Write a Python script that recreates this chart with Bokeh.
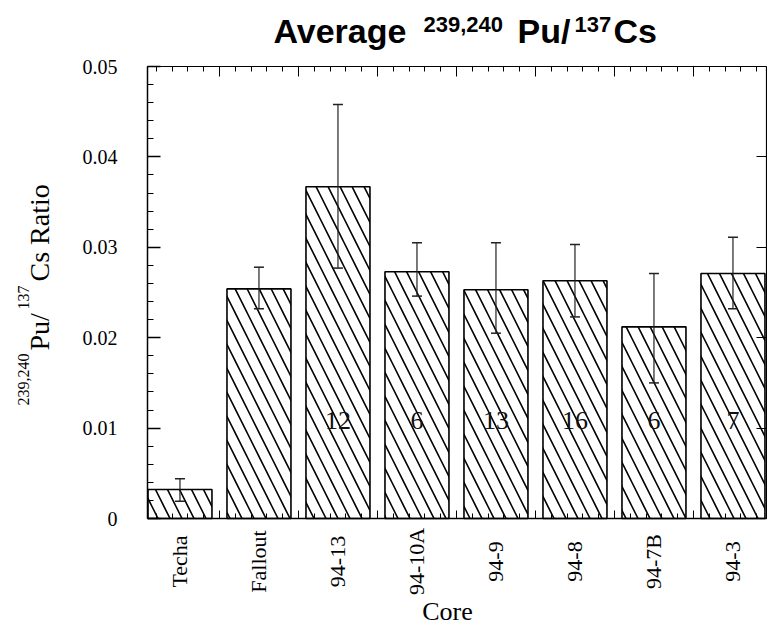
from math import pi
from bokeh.plotting import figure
from bokeh.models import (Range1d, FixedTicker, LinearAxis, Label, LabelSet,
                          ColumnDataSource, Whisker, TeeHead)
from bokeh.core.properties import value
from bokeh.embed import file_html
from bokeh.resources import INLINE

# ---- data ----
cores = ["Techa", "Fallout", "94-13", "94-10A", "94-9", "94-8", "94-7B", "94-3"]
ratio = [0.0032, 0.0254, 0.0367, 0.0273, 0.0253, 0.0263, 0.0212, 0.0271]
err_upper = [0.0044, 0.0278, 0.0458, 0.0305, 0.0305, 0.0303, 0.0271, 0.0311]
err_lower = [0.0019, 0.0232, 0.0277, 0.0246, 0.0205, 0.0223, 0.0150, 0.0232]
counts = ["", "", "12", "6", "13", "16", "6", "7"]
y_ticks = [0.0, 0.01, 0.02, 0.03, 0.04, 0.05]
y_tick_labels = ["0", "0.01", "0.02", "0.03", "0.04", "0.05"]

xs = list(range(len(cores)))
src = ColumnDataSource(dict(x=xs, name=cores, ratio=ratio,
                            upper=err_upper, lower=err_lower, n=counts))

SERIF = "Liberation Serif"
SANS = "Liberation Sans"

# ---- layout constants (plot box in data units) ----
W, H = 767, 638
X_LEFT, X_RIGHT = -0.411, 7.42
Y_BOT, Y_TOP = 0.0, 0.05
PX_X = 79.0        # pixels per category
PX_Y = 9040.0      # pixels per ratio unit
BOX_LEFT, BOX_TOP, BOX_BOTTOM = 147, 66, 518

x_range = Range1d(X_LEFT - BOX_LEFT / PX_X, X_LEFT + (W - BOX_LEFT) / PX_X)
y_range = Range1d(Y_BOT - (H - BOX_BOTTOM) / PX_Y, Y_TOP + BOX_TOP / PX_Y)

p = figure(width=W, height=H, output_backend="svg", toolbar_location=None,
           x_range=x_range, y_range=y_range, title=None,
           x_axis_location=None, y_axis_location=None,
           min_border=0, min_border_left=0, min_border_right=0,
           min_border_top=0, min_border_bottom=0)
p.background_fill_color = "white"
p.border_fill_color = "white"
p.outline_line_color = None
p.grid.visible = False

# bars
p.vbar(x="x", top="ratio", bottom=0, width=0.81, source=src,
       fill_color="white", line_color="black", line_width=1.6,
       hatch_pattern="\\", hatch_color="black", hatch_scale=24, hatch_weight=1.6)

# error bars
wh = Whisker(base="x", upper="upper", lower="lower", source=src,
             line_color="#222222", line_width=1.2, level="annotation",
             upper_head=TeeHead(size=10, line_color="#222222", line_width=1.5),
             lower_head=TeeHead(size=10, line_color="#222222", line_width=1.5))
p.add_layout(wh)

# sample counts inside bars
p.text(x="x", y=0.0108, text="n", source=src, text_align="center",
       text_baseline="middle", text_font=value(SERIF), text_font_size="26px",
       text_color="#111111")

# ---- axes drawn at the plot-box edges ----
ya = LinearAxis(fixed_location=X_LEFT, bounds=(Y_BOT, Y_TOP),
                ticker=FixedTicker(ticks=y_ticks,
                                   minor_ticks=[i * 0.002 for i in range(26)]),
                major_label_overrides=dict(zip(y_ticks, y_tick_labels)),
                major_tick_in=13, major_tick_out=0, minor_tick_in=6,
                minor_tick_out=0, major_label_standoff=30,
                major_label_text_font=SERIF, major_label_text_font_size="20px",
                major_label_text_color="black", axis_line_color="black",
                axis_line_width=1.5, major_tick_line_width=1.5)
p.add_layout(ya, "left")

bounds = [i + 0.5 for i in xs[:-1]]
fine = [i * 0.2 - 0.3 for i in range(40)]

xa = LinearAxis(fixed_location=Y_BOT, bounds=(X_LEFT, X_RIGHT),
                ticker=FixedTicker(ticks=bounds, minor_ticks=fine),
                major_label_text_color=None, major_label_text_font_size="1px",
                major_tick_in=8, major_tick_out=0, minor_tick_in=5,
                minor_tick_out=0, axis_line_color="black", axis_line_width=1.6)
p.add_layout(xa, "below")

top = LinearAxis(fixed_location=Y_TOP, bounds=(X_LEFT, X_RIGHT),
                 ticker=FixedTicker(ticks=bounds, minor_ticks=fine),
                 major_label_text_color=None, major_label_text_font_size="1px",
                 major_tick_in=10, major_tick_out=0, minor_tick_in=5,
                 minor_tick_out=0, axis_line_color="black", axis_line_width=1.2)
p.add_layout(top, "above")

right = LinearAxis(fixed_location=X_RIGHT, bounds=(Y_BOT, Y_TOP),
                   ticker=FixedTicker(ticks=y_ticks, minor_ticks=[]),
                   major_label_text_color=None, major_label_text_font_size="1px",
                   major_tick_in=10, major_tick_out=0, minor_tick_in=0,
                   minor_tick_out=0, axis_line_color="black", axis_line_width=1.2)
p.add_layout(right, "right")

# category labels, centred and rotated below the axis
cat_labels = LabelSet(x="x", y=77, y_units="screen", text="name", source=src,
                      angle=pi / 2, text_align="center", text_baseline="middle",
                      text_font=value(SERIF), text_font_size="22px",
                      text_color="black")
p.add_layout(cat_labels)

p.add_layout(Label(x=447, y=27, x_units="screen", y_units="screen", text="Core",
                   text_align="center", text_baseline="middle", text_font=SERIF,
                   text_font_size="26px", text_color="black"))

# title with superscripts (x = left edge, base = baseline height in screen px)
def tlabel(x, base, t, size):
    p.add_layout(Label(x=x, y=base + 0.347 * size, x_units="screen",
                       y_units="screen", text=t, text_font=SANS,
                       text_font_style="bold", text_font_size=f"{size}px",
                       text_color="black", text_baseline="middle",
                       text_align="left"))

tlabel(273, 596, "Average", 34)
tlabel(423, 606, "239,240", 22)
tlabel(517, 596, "Pu/", 34)
tlabel(574, 606, "137", 22)
tlabel(613, 596, "Cs", 34)

# y-axis label with superscripts (rotated; base = baseline x, y = start)
def ylabel(base, y, t, size):
    p.add_layout(Label(x=base - 0.338 * size, y=y, x_units="screen",
                       y_units="screen", text=t, angle=pi / 2, text_font=SERIF,
                       text_font_size=f"{size}px", text_color="black",
                       text_baseline="middle", text_align="left"))

ylabel(28, 233, "239,240", 16)
ylabel(48, 288, "Pu/", 28)
ylabel(28, 329, "137", 16)
ylabel(48, 357, "Cs Ratio", 28)

open("out.html", "w").write(file_html(p, INLINE))
